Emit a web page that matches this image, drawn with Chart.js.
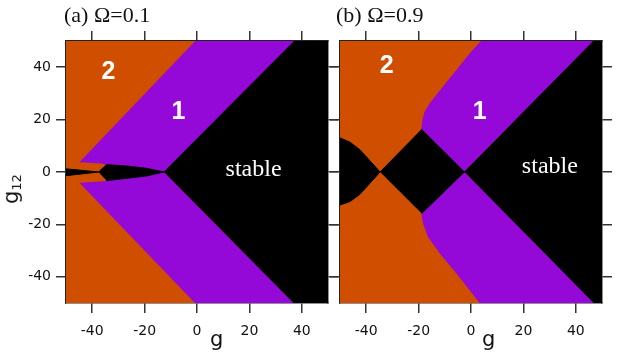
<!DOCTYPE html>
<html>
<head>
<meta charset="utf-8">
<script src="https://cdn.jsdelivr.net/npm/chart.js@4/dist/chart.umd.min.js"></script>
<style>
  body { margin: 0; background: #fff; }
  #wrap { position: relative; width: 618px; height: 357px; overflow: hidden; }
  canvas { position: absolute; top: 0; }
  .title { position: absolute; top: 2px; font: 22px "Liberation Serif", "Times New Roman", serif; color: #111; white-space: nowrap; }
  .glab { position: absolute; top: 327px; font: 21px "DejaVu Sans", sans-serif; color: #111; }
  #ylab { position: absolute; left: -4px; top: 177px; transform: rotate(-90deg); transform-origin: center; font: 21px "DejaVu Sans", sans-serif; color: #111; white-space: nowrap; }
  #ylab span { font-size: 13px; position: relative; top: 3px; }
</style>
</head>
<body>
<div id="wrap">
  <canvas id="chartA" width="340" height="357" style="left:0"></canvas>
  <canvas id="chartB" width="288" height="357" style="left:330px"></canvas>
  <div class="title" style="left:64px">(a) &Omega;=0.1</div>
  <div class="title" style="left:336px">(b) &Omega;=0.9</div>
  <div class="glab" style="left:210px">g</div>
  <div class="glab" style="left:482px">g</div>
  <div id="ylab">g<span>12</span></div>
</div>
<script>
// axis ticks
const gTicks = [-40, -20, 0, 20, 40];
const g12Ticks = [-40, -20, 0, 20, 40];

// region boundaries, as [g, g12] pairs
const fullBox = [[-50, -50], [50, -50], [50, 50], [-50, 50]];

// (a) Omega = 0.1
const aPurpleTop = [[-44.7, 3.9], [-36.2, 3.4], [-34.5, 2.8], [-26.8, 2.3], [-19.2, 1.4], [-12.6, 0], [37.2, 50], [-0.7, 50]];
const aPurpleBottom = [[-44.7, -4.3], [-35.1, -3.7], [-34.5, -3.3], [-26.8, -2.4], [-19.2, -1.5], [-12.6, 0], [36.8, -50], [-0.8, -50]];
const aSpindle = [[-37.6, 0], [-34.5, 2.8], [-26.8, 2.3], [-19.2, 1.4], [-12.6, 0], [-19.2, -1.5], [-26.8, -2.4], [-34.5, -3.3]];
const aSpindleLeft = [[-50, 1.2], [-37.6, 0], [-50, -1.4]];
const aStable = [[-12.6, 0], [37.2, 50], [50, 50], [50, -50], [36.8, -50]];

// (b) Omega = 0.9
const bPurpleTop = [[4.0, 50], [-0.3, 45.3], [-5.4, 38.9], [-10.5, 32.6], [-15.6, 26.2], [-17.5, 23.0], [-18.4, 19.8], [-18.8, 16.2], [-2.5, 0], [46.8, 50]];
const bPurpleBottom = [[3.5, -50], [-5.4, -38.7], [-11.8, -31.0], [-16.3, -24.7], [-18.1, -19.6], [-18.8, -15.8], [-2.5, 0], [46.8, -50]];
const bDiamond = [[-34.7, 0], [-18.8, 16.2], [-2.5, 0], [-18.8, -15.8]];
const bLeftBlack = [[-50, 13.0], [-46.2, 11.4], [-42.4, 8.5], [-38.5, 4.2], [-34.7, 0], [-38.5, -4.2], [-42.4, -8.5], [-46.2, -11.3], [-50, -12.6]];
const bStable = [[-2.5, 0], [46.8, 50], [50, 50], [50, -50], [46.8, -50]];

// region names, placed at [g, g12]
const aLabels = [["2", -33.8, 38.2], ["1", -7.1, 22.9], ["stable", 21.6, 1.0]];
const bLabels = [["2", -32.2, 40.5], ["1", 3.3, 22.9], ["stable", 30.1, 1.9]];

const ORANGE = "#d04e00";
const PURPLE = "#9408d8";
const BLACK = "#000000";

function region(points, color) {
  return {
    data: points.map(p => ({ x: p[0], y: p[1] })),
    backgroundColor: color,
    borderColor: color,
    borderWidth: 1,
    fill: "shape",
    pointRadius: 0,
    tension: 0
  };
}

function textPlugin(items) {
  return {
    id: "regionText",
    afterDatasetsDraw(chart) {
      const { ctx, scales } = chart;
      ctx.save();
      ctx.fillStyle = "#fff";
      ctx.textAlign = "center";
      ctx.textBaseline = "middle";
      items.forEach(([txt, g, g12]) => {
        ctx.font = txt === "stable" ? "24px 'Liberation Serif', serif" : "bold 25px 'Liberation Sans', Arial, sans-serif";
        ctx.fillText(txt, scales.x.getPixelForValue(g), scales.y.getPixelForValue(g12));
      });
      ctx.restore();
    }
  };
}

function axis(position, ticks, size, showLabels) {
  const horizontal = position === "top" || position === "bottom";
  return {
    type: "linear",
    axis: horizontal ? "x" : "y",
    position: position,
    min: -50,
    max: 50,
    afterBuildTicks: s => { s.ticks = ticks.map(v => ({ value: v })); },
    afterFit: s => { if (horizontal) s.height = size; else s.width = size; },
    grid: { drawOnChartArea: false, drawTicks: true, tickLength: 10, color: "#333", lineWidth: 1.5 },
    border: { display: true, color: "#222", width: 1.5 },
    ticks: {
      display: showLabels,
      autoSkip: false,
      maxRotation: 0,
      padding: horizontal ? 10 : 5,
      color: "#111",
      font: { family: "'DejaVu Sans', sans-serif", size: 14 }
    }
  };
}

function makeChart(id, regions, labels, leftW, rightW, showYLabels) {
  return new Chart(document.getElementById(id), {
    type: "line",
    data: { datasets: regions },
    options: {
      responsive: false,
      animation: false,
      events: [],
      layout: { padding: 0 },
      plugins: { legend: { display: false }, tooltip: { enabled: false } },
      scales: {
        x: axis("bottom", gTicks, 54, true),
        xTop: axis("top", gTicks, 41, false),
        y: axis("left", g12Ticks, leftW, showYLabels),
        yRight: axis("right", g12Ticks, rightW, false)
      }
    },
    plugins: [textPlugin(labels)]
  });
}

// datasets are drawn last-to-first, so the background comes last
makeChart("chartA", [
  region(aSpindle, BLACK),
  region(aSpindleLeft, BLACK),
  region(aStable, BLACK),
  region(aPurpleTop, PURPLE),
  region(aPurpleBottom, PURPLE),
  region(fullBox, ORANGE)
], aLabels, 66, 12, true);

makeChart("chartB", [
  region(bDiamond, BLACK),
  region(bLeftBlack, BLACK),
  region(bStable, BLACK),
  region(bPurpleTop, PURPLE),
  region(bPurpleBottom, PURPLE),
  region(fullBox, ORANGE)
], bLabels, 10, 16, false);
</script>
</body>
</html>
